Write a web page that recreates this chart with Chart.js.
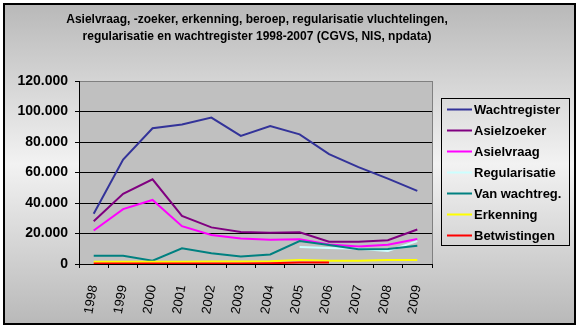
<!DOCTYPE html>
<html lang="nl">
<head>
    <meta charset="UTF-8">
    <title>Asielvraag en wachtregister 1998-2009</title>
    <script src="https://cdn.jsdelivr.net/npm/chart.js@4.4.1/dist/chart.umd.min.js"></script>
    <style>
        html, body { margin: 0; padding: 0; background: #fff; }
        #wrap { width: 580px; height: 329px; }
    </style>
</head>
<body>
    <div id="wrap">
        <canvas id="grafiek" width="580" height="329"></canvas>
    </div>

    <script>
        // Jaren en reeksen (aantallen per jaar)
        const jaren = ['1998', '1999', '2000', '2001', '2002', '2003', '2004', '2005', '2006', '2007', '2008', '2009'];

        const wachtregister = [33000, 68500, 89000, 91500, 96000, 84000, 90500, 85000, 72000, 63500, 56000, 48000];
        const asielzoeker = [28000, 46000, 55500, 31500, 24000, 21000, 20500, 20800, 14600, 14600, 15600, 22600];
        const asielvraag = [22000, 36000, 42000, 24800, 19000, 16800, 15900, 16200, 12800, 11400, 12600, 16400];
        const regularisatie = [null, null, null, null, null, null, null, 11100, 10500, 10000, 8500, 15000];
        const vanWachtreg = [5400, 5400, 2200, 10300, 7000, 5000, 6300, 15000, 12500, 9700, 9800, 12000];
        const erkenning = [1500, 1500, 1500, 1500, 1700, 1700, 1800, 2600, 2100, 2100, 2600, 2700];
        const betwistingen = [400, 400, 400, 400, 400, 400, 500, 1000, 1000, null, null, null];

        const reeksNamen = ['Wachtregister', 'Asielzoeker', 'Asielvraag', 'Regularisatie', 'Van wachtreg.', 'Erkenning', 'Betwistingen'];
        const reeksKleuren = ['#333399', '#800080', '#ff00ff', '#ccffff', '#008080', '#ffff00', '#ff0000'];
        const yTicks = [0, 20000, 40000, 60000, 80000, 100000, 120000];

        const titelRegels = [
            'Asielvraag, -zoeker, erkenning, beroep, regularisatie vluchtelingen,',
            'regularisatie en wachtregister 1998-2007 (CGVS, NIS, npdata)'
        ];

        const FONT = '"Liberation Sans", Arial, sans-serif';
        Chart.defaults.font.family = FONT;
        Chart.defaults.color = '#000';

        function metPunten(v) {
            return String(v).replace(/\B(?=(\d{3})+(?!\d))/g, '.');
        }

        const reeksen = [wachtregister, asielzoeker, asielvraag, regularisatie, vanWachtreg, erkenning, betwistingen];

        // Achtergrond, kader, titel en legenda zoals in Excel
        const excelStijl = {
            id: 'excelStijl',
            beforeDraw(chart) {
                const ctx = chart.ctx;
                const a = chart.chartArea;
                ctx.save();
                ctx.fillStyle = '#fff';
                ctx.fillRect(0, 0, chart.width, chart.height);

                const grad = ctx.createLinearGradient(0, 5, 0, 323);
                grad.addColorStop(0, '#b9b9b9');
                grad.addColorStop(0.5, '#f2f2f2');
                grad.addColorStop(1, '#b9b9b9');
                ctx.fillStyle = grad;
                ctx.fillRect(4, 4, 571, 320);
                ctx.strokeStyle = '#000';
                ctx.lineWidth = 2;
                ctx.strokeRect(4, 4, 571, 320);

                ctx.fillStyle = '#c0c0c0';
                ctx.fillRect(a.left, a.top, a.right - a.left, a.bottom - a.top);

                ctx.fillStyle = '#000';
                ctx.font = 'bold 12px ' + FONT;
                ctx.textAlign = 'center';
                ctx.textBaseline = 'middle';
                ctx.fillText(titelRegels[0], 257, 20);
                ctx.fillText(titelRegels[1], 257, 37);
                ctx.restore();
            },
            beforeDatasetsDraw(chart) {
                const ctx = chart.ctx;
                const a = chart.chartArea;
                ctx.save();
                ctx.strokeStyle = '#808080';
                ctx.lineWidth = 1;
                ctx.beginPath();
                ctx.moveTo(a.right + 0.5, a.top);
                ctx.lineTo(a.right + 0.5, a.bottom);
                ctx.stroke();
                ctx.restore();
            },
            afterDraw(chart) {
                const ctx = chart.ctx;
                ctx.save();
                ctx.strokeStyle = '#000';
                ctx.lineWidth = 1;
                ctx.strokeRect(441.5, 98.5, 128, 147);
                ctx.font = 'bold 13px ' + FONT;
                ctx.textAlign = 'left';
                ctx.textBaseline = 'middle';
                chart.data.datasets.forEach((ds, i) => {
                    const y = 109.5 + i * 21;
                    ctx.strokeStyle = ds.borderColor;
                    ctx.lineWidth = 2;
                    ctx.beginPath();
                    ctx.moveTo(447, y);
                    ctx.lineTo(472, y);
                    ctx.stroke();
                    ctx.fillStyle = '#000';
                    ctx.fillText(ds.label, 474, y + 0.5);
                });
                ctx.restore();
            }
        };

        new Chart(document.getElementById('grafiek'), {
            type: 'line',
            data: {
                labels: jaren,
                datasets: reeksen.map((data, i) => ({
                    label: reeksNamen[i],
                    data: data,
                    borderColor: reeksKleuren[i],
                    backgroundColor: reeksKleuren[i],
                    borderWidth: 2,
                    pointRadius: 0,
                    tension: 0,
                    fill: false,
                    // laatste reeks bovenop, zoals Excel
                    order: reeksen.length - i
                }))
            },
            options: {
                responsive: false,
                animation: false,
                devicePixelRatio: 1,
                layout: { padding: { left: 0, right: 148, top: 81, bottom: 0 } },
                plugins: {
                    legend: { display: false },
                    title: { display: false },
                    tooltip: { enabled: false }
                },
                scales: {
                    x: {
                        offset: true,
                        afterFit(scale) { scale.height = 65; },
                        grid: {
                            offset: true,
                            drawOnChartArea: false,
                            drawTicks: true,
                            tickLength: 4,
                            color: '#000',
                            tickColor: '#000'
                        },
                        border: { color: '#000', width: 1 },
                        ticks: {
                            minRotation: 80,
                            maxRotation: 80,
                            padding: 16,
                            font: { size: 13 },
                            color: '#000'
                        }
                    },
                    y: {
                        min: 0,
                        max: 120000,
                        afterFit(scale) { scale.width = 79; },
                        afterBuildTicks(scale) {
                            scale.ticks = yTicks.map(v => ({ value: v }));
                        },
                        grid: {
                            color: c => (c.tick && c.tick.value === 120000) ? '#808080' : '#000',
                            tickColor: '#000',
                            tickLength: 4,
                            lineWidth: 1
                        },
                        border: { color: '#000', width: 1 },
                        ticks: {
                            padding: 7,
                            font: { size: 14, weight: 'bold' },
                            color: '#000',
                            callback: v => metPunten(v)
                        }
                    }
                }
            },
            plugins: [excelStijl]
        });
    </script>
</body>
</html>
